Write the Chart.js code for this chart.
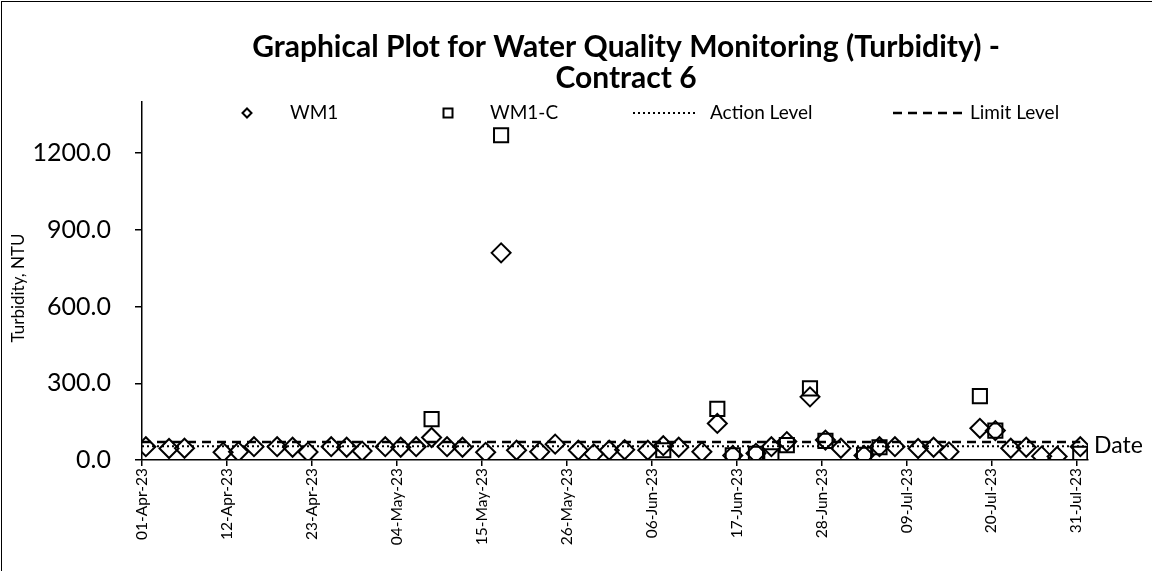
<!DOCTYPE html>
<html>
<head>
<meta charset="utf-8">
<script src="https://cdn.jsdelivr.net/npm/chart.js@4/dist/chart.umd.min.js"></script>
<style>
html,body{margin:0;padding:0;background:#fff;}
#wrap{width:1152px;height:571px;position:relative;}
</style>
</head>
<body>
<div id="wrap"><canvas id="c" width="1152" height="571"></canvas></div>
<script>
// ---- data ----
const titleLines = ['Graphical Plot for Water Quality Monitoring (Turbidity) -', 'Contract 6'];
const yAxisTitle = 'Turbidity, NTU';
const xAxisTitle = 'Date';
const seriesNames = ['WM1', 'WM1-C', 'Action Level', 'Limit Level'];

const dates = [
 '2023-04-01','2023-04-04','2023-04-06','2023-04-11','2023-04-13','2023-04-15','2023-04-18','2023-04-20','2023-04-22',
 '2023-04-25','2023-04-27','2023-04-29','2023-05-02','2023-05-04','2023-05-06','2023-05-08','2023-05-10','2023-05-12',
 '2023-05-15','2023-05-17','2023-05-19','2023-05-22','2023-05-24','2023-05-27','2023-05-29','2023-05-31','2023-06-02',
 '2023-06-05','2023-06-07','2023-06-09','2023-06-12','2023-06-14','2023-06-16','2023-06-19','2023-06-21','2023-06-23',
 '2023-06-26','2023-06-28','2023-06-30','2023-07-03','2023-07-05','2023-07-07','2023-07-10','2023-07-12','2023-07-14',
 '2023-07-18','2023-07-20','2023-07-22','2023-07-24','2023-07-26','2023-07-28','2023-07-31'
];
const wm1 = [
 52,45,46,30,32,52,52,50,31,
 52,50,35,52,50,52,88,52,50,
 30,810,38,32,62,38,24,38,40,
 38,56,50,32,143,18,26,52,72,
 247,78,46,18,52,52,45,50,32,
 124,115,46,50,15,14,52
];
const wm1c = [
 null,null,null,null,null,null,null,null,null,
 null,null,null,null,null,null,160,null,null,
 null,1270,null,null,null,null,null,null,null,
 null,38,null,null,200,18,24,14,58,
 280,75,null,20,50,null,null,null,null,
 250,115,null,null,null,null,24
];
const actionLevel = 53.4;
const limitLevel = 70.0;
const axisStart = '2023-04-01';
const axisEnd = '2023-08-02';
const yTicks = [0, 300, 600, 900, 1200];
const yMax = 1400;
const xTickStepDays = 11;

// ---- build ----
const MS = 86400000;
const t0 = Date.parse(axisStart + 'T00:00:00Z');
const dayIdx = s => Math.round((Date.parse(s + 'T00:00:00Z') - t0) / MS);
const xEnd = dayIdx(axisEnd) - 0.5;
const MON = ['Jan','Feb','Mar','Apr','May','Jun','Jul','Aug','Sep','Oct','Nov','Dec'];
const fmtDay = d => {
  const dt = new Date(t0 + d * MS);
  return String(dt.getUTCDate()).padStart(2,'0') + '-' + MON[dt.getUTCMonth()] + '-' + String(dt.getUTCFullYear()).slice(2);
};
const pts = arr => dates.map((d,i) => arr[i] == null ? null : {x: dayIdx(d) + 0.5, y: arr[i]}).filter(p => p);
const xTickValues = [];
for (let v = 0; v <= xEnd; v += xTickStepDays) xTickValues.push(v);

const FONT = 'Lato, "Open Sans", sans-serif';

const deco = {
  id: 'deco',
  afterDraw(chart) {
    const ctx = chart.ctx;
    ctx.save();
    // border
    ctx.strokeStyle = '#000'; ctx.lineWidth = 1;
    ctx.strokeRect(1.5, 1.5, 1200, 700);
    // title
    ctx.fillStyle = '#000';
    ctx.textAlign = 'center'; ctx.textBaseline = 'middle';
    ctx.font = 'bold 30px ' + FONT;
    ctx.fillText(titleLines[0], 626, 47);
    ctx.fillText(titleLines[1], 626, 78);
    // y title
    ctx.save();
    ctx.translate(19, 288);
    ctx.rotate(-Math.PI/2);
    ctx.font = '17px ' + FONT;
    ctx.fillText(yAxisTitle, 0, 0);
    ctx.restore();
    // x title
    ctx.textAlign = 'left';
    ctx.font = '23px ' + FONT;
    ctx.fillText(xAxisTitle, 1094, 446);
    // legend
    const ly = 113;
    ctx.font = '19px ' + FONT;
    ctx.lineWidth = 2;
    ctx.beginPath();
    ctx.moveTo(247-4.5, ly); ctx.lineTo(247, ly-4.5); ctx.lineTo(247+4.5, ly); ctx.lineTo(247, ly+4.5); ctx.closePath();
    ctx.stroke();
    ctx.fillText(seriesNames[0], 290, ly);
    ctx.strokeRect(448-4.5, ly-4.5, 9, 9);
    ctx.fillText(seriesNames[1], 490, ly);
    ctx.lineWidth = 2;
    ctx.setLineDash([2, 3]);
    ctx.beginPath(); ctx.moveTo(633, ly); ctx.lineTo(698, ly); ctx.stroke();
    ctx.setLineDash([9, 6]);
    ctx.lineWidth = 2.5;
    ctx.beginPath(); ctx.moveTo(893, ly); ctx.lineTo(962, ly); ctx.stroke();
    ctx.setLineDash([]);
    ctx.fillText(seriesNames[2], 710, ly);
    ctx.fillText(seriesNames[3], 970, ly);
    ctx.restore();
  }
};

new Chart(document.getElementById('c'), {
  type: 'scatter',
  data: {
    datasets: [
      {label: seriesNames[0], data: pts(wm1), pointStyle: 'rectRot', pointRadius: 9.5, pointHoverRadius: 9.5,
       borderColor: '#000', backgroundColor: 'rgba(0,0,0,0)', pointBorderWidth: 2, showLine: false, order: 1},
      {label: seriesNames[1], data: pts(wm1c), pointStyle: 'rect', pointRadius: 10, pointHoverRadius: 10,
       borderColor: '#000', backgroundColor: 'rgba(0,0,0,0)', pointBorderWidth: 2, showLine: false, order: 2},
      {label: seriesNames[2], type: 'line', data: [{x: 0, y: actionLevel}, {x: xEnd, y: actionLevel}],
       borderColor: '#000', borderWidth: 2, borderDash: [2, 3], pointRadius: 0, fill: false, order: 3},
      {label: seriesNames[3], type: 'line', data: [{x: 0, y: limitLevel}, {x: xEnd - 1, y: limitLevel}],
       borderColor: '#000', borderWidth: 2.5, borderDash: [9, 6], pointRadius: 0, fill: false, order: 4}
    ]
  },
  options: {
    responsive: false,
    animation: false,
    events: [],
    layout: {padding: {top: 102, right: 64, left: 0, bottom: 0}},
    plugins: {legend: {display: false}, title: {display: false}, tooltip: {enabled: false}},
    scales: {
      x: {
        type: 'linear', min: 0, max: xEnd,
        afterFit: s => { s.height = 571 - 460; },
        afterBuildTicks: s => { s.ticks = xTickValues.map(v => ({value: v})); },
        ticks: {autoSkip: false, maxRotation: 90, minRotation: 90, padding: 2,
                color: '#000', font: {family: FONT, size: 15.5}, callback: v => fmtDay(v)},
        grid: {display: true, drawOnChartArea: false, drawTicks: true, tickLength: 6, color: '#000', lineWidth: 1.5},
        border: {display: true, color: '#000', width: 1.5}
      },
      y: {
        min: 0, max: yMax,
        afterFit: s => { s.width = 142; },
        afterBuildTicks: s => { s.ticks = yTicks.map(v => ({value: v})); },
        ticks: {padding: 24, color: '#000', font: {family: FONT, size: 25}, callback: v => v.toFixed(1)},
        grid: {display: true, drawOnChartArea: false, drawTicks: true, tickLength: 7, color: '#000', lineWidth: 1.5},
        border: {display: true, color: '#000', width: 1.5}
      }
    }
  },
  plugins: [deco]
});
</script>
</body>
</html>
